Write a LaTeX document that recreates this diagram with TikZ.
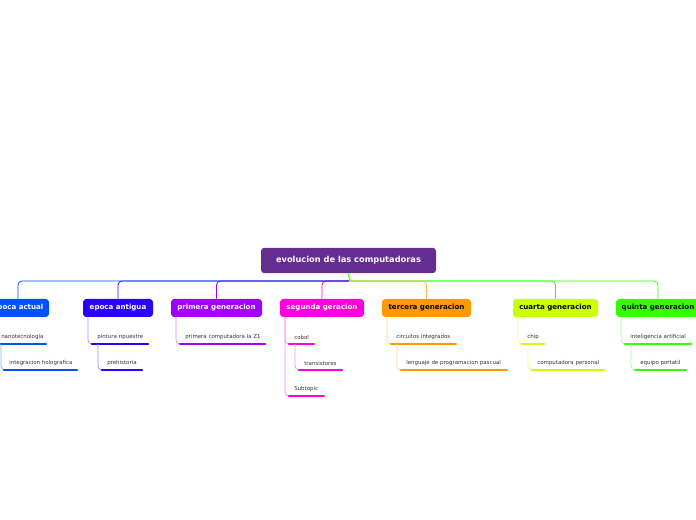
\documentclass[tikz,border=0pt]{standalone}
\usepackage{fontspec}
\setmainfont{DejaVu Sans}
\begin{document}
\begin{tikzpicture}[x=0.75pt,y=-0.75pt,
  mainbox/.style={rounded corners=2.5pt,inner sep=0pt,minimum height=13.5pt,font=\fontsize{5.3}{6}\selectfont\bfseries},
  subt/.style={anchor=west,inner sep=0pt,font=\fontsize{4.1}{4.6}\selectfont,text=black!80},
  uline/.style={line width=2pt,line cap=round},
  conn/.style={line width=0.6pt,rounded corners=3pt}]
\useasboundingbox (0,0) rectangle (696,520);
\definecolor{croot}{HTML}{662D91}
\definecolor{c1}{HTML}{0050FF}
\definecolor{c2}{HTML}{2B00FF}
\definecolor{c3}{HTML}{A000FF}
\definecolor{c4}{HTML}{FF00DD}
\definecolor{c5}{HTML}{FF9900}
\definecolor{c6}{HTML}{CCFF00}
\definecolor{c7}{HTML}{33FF00}
% root
\node[mainbox,fill=croot,text=white,minimum width=131.25pt,minimum height=19pt] (root) at (348.5,260.5) {\fontsize{6.2}{7}\selectfont evolucion de las computadoras};
% main nodes
\node[mainbox,fill=c1,text=white,minimum width=46.5pt] (m1) at (18,308) {epoca actual};
\node[mainbox,fill=c2,text=white,minimum width=52.5pt] (m2) at (118,308) {epoca antigua};
\node[mainbox,fill=c3,text=white,minimum width=68.25pt] (m3) at (216.5,308) {primera generacion};
\node[mainbox,fill=c4,text=white,minimum width=63pt] (m4) at (322,308) {segunda geracion};
\node[mainbox,fill=c5,text=black,minimum width=66.75pt] (m5) at (426.5,308) {tercera generacion};
\node[mainbox,fill=c6,text=black,minimum width=63.75pt] (m6) at (555.5,308) {cuarta generacion};
\node[mainbox,fill=c7,text=black,minimum width=63pt] (m7) at (658,308) {quinta generacion};
% main connectors
\coordinate (j) at (349,281);
\draw[conn,c7] (root.south) -- (j) -| (m7.north);
\draw[conn,c7] (j) -| (m6.north);
\draw[conn,c5!70] (j) -| (m5.north);
\draw[conn,c4] (j) -| (m4.north);
\draw[conn,c3] (j) -| (m3.north);
\draw[conn,c2] (j) -| (m2.north);
\draw[conn,c1] (j) -| (m1.north);
% subtopic macro: name, color, x0 (vertical), x1, x2, y(line), text, from
\newcommand{\subtp}[8]{%
  \coordinate (#1a) at (#4,#6); \coordinate (#1b) at (#5,#6);
  \node[subt] (#1) at (#4+5,#6-7) {#7};
  \draw[conn,#2!45] (#8) |- (#1a);
  \draw[uline,#2] (#1a) -- (#1b);}
% epoca actual
\coordinate (f1) at (-9,317);
\subtp{s11}{c1}{-9}{-4}{46}{344}{nanotecnologia}{f1}
\coordinate (f11) at (1,344);
\subtp{s12}{c1}{1}{4}{77}{370}{integracion holografica}{f11}
% epoca antigua
\coordinate (f2) at (88,317);
\subtp{s21}{c2}{88}{92}{148}{344}{pintura ripuestre}{f2}
\coordinate (f21) at (98,344);
\subtp{s22}{c2}{98}{102}{142}{370}{prehistoria}{f21}
% primera
\coordinate (f3) at (176,317);
\subtp{s31}{c3}{176}{180}{265}{344}{primera computadora la Z1}{f3}
% segunda
\coordinate (f4) at (285,317);
\subtp{s41}{c4}{285}{289}{314}{344}{cobol}{f4}
\coordinate (f41) at (295,344);
\subtp{s42}{c4}{295}{299}{342}{370}{transistores}{f41}
\subtp{s43}{c4}{285}{289}{324}{396}{Subtopic}{f4}
% tercera
\coordinate (f5) at (387,317);
\subtp{s51}{c5}{387}{391}{456}{344}{circuitos integrados}{f5}
\coordinate (f51) at (397,344);
\subtp{s52}{c5}{397}{401}{507}{370}{lenguaje de programacion pascual}{f51}
% cuarta
\coordinate (f6) at (518,317);
\subtp{s61}{c6}{518}{522}{544}{344}{chip}{f6}
\coordinate (f61) at (528,344);
\subtp{s62}{c6}{528}{532}{604}{370}{computadora personal}{f61}
% quinta
\coordinate (f7) at (621,317);
\subtp{s71}{c7}{621}{625}{691}{344}{inteligencia artificial}{f7}
\coordinate (f71) at (631,344);
\subtp{s72}{c7}{631}{635}{686}{370}{equipo portatil}{f71}
\end{tikzpicture}
\end{document}
